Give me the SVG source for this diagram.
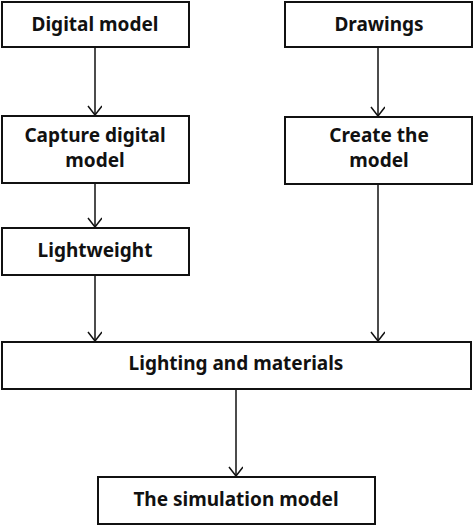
<svg xmlns="http://www.w3.org/2000/svg" width="474" height="525" viewBox="0 0 474 525">
<defs>
<style>
.box{fill:#fff;stroke:#111;stroke-width:2}
.t{font-family:"Noto Sans","Open Sans",sans-serif;font-weight:bold;font-size:19px;fill:#111;text-anchor:middle}
.c{stroke:#111;stroke-width:1.5;fill:none}
</style>
<marker id="ah" markerWidth="16" markerHeight="16" refX="10" refY="7" orient="auto" markerUnits="userSpaceOnUse">
<path d="M1,0 L10,7 L1,14" fill="none" stroke="#111" stroke-width="1.5"/>
</marker>
</defs>
<rect width="474" height="525" fill="#fff"/>
<g id="connectors">
<line class="c" x1="95" y1="47" x2="95" y2="115" marker-end="url(#ah)"/>
<line class="c" x1="378" y1="47" x2="378" y2="116" marker-end="url(#ah)"/>
<line class="c" x1="95" y1="183" x2="95" y2="227" marker-end="url(#ah)"/>
<line class="c" x1="95" y1="275" x2="95" y2="341" marker-end="url(#ah)"/>
<line class="c" x1="378" y1="184" x2="378" y2="341" marker-end="url(#ah)"/>
<line class="c" x1="236" y1="389" x2="236" y2="476" marker-end="url(#ah)"/>
</g>
<g id="digital-model">
<rect class="box" x="2" y="2" width="187" height="45"/>
<text class="t" x="95" y="31">Digital model</text>
</g>
<g id="drawings">
<rect class="box" x="285" y="2" width="187" height="45"/>
<text class="t" x="379" y="31">Drawings</text>
</g>
<g id="capture">
<rect class="box" x="2" y="116" width="187" height="67"/>
<text class="t" x="95" y="142">Capture digital</text>
<text class="t" x="95" y="167">model</text>
</g>
<g id="create">
<rect class="box" x="285" y="117" width="187" height="67"/>
<text class="t" x="379" y="142">Create the</text>
<text class="t" x="379" y="167">model</text>
</g>
<g id="lightweight">
<rect class="box" x="2" y="228" width="187" height="47"/>
<text class="t" x="95" y="257">Lightweight</text>
</g>
<g id="lighting">
<rect class="box" x="2" y="342" width="469" height="47"/>
<text class="t" x="236" y="370">Lighting and materials</text>
</g>
<g id="simulation">
<rect class="box" x="98" y="477" width="277" height="47"/>
<text class="t" x="236" y="506">The simulation model</text>
</g>
</svg>
